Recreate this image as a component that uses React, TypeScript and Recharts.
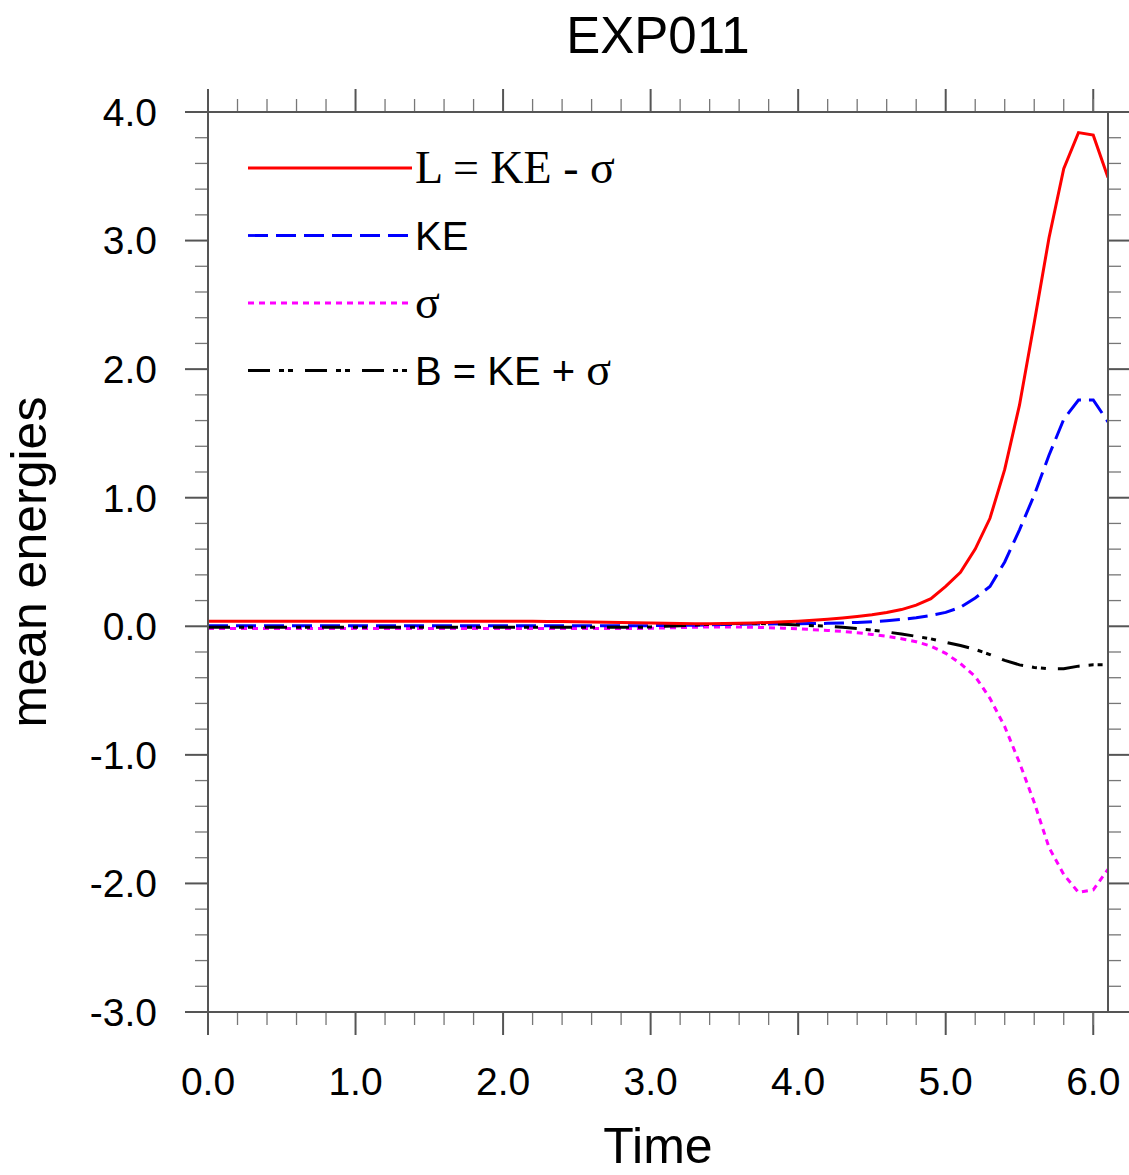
import React from 'react';
import { LineChart, Line, XAxis, YAxis, Legend, Label } from 'recharts';

// time axis (model time units)
const times = [
  0.0, 0.1, 0.2, 0.3, 0.4, 0.5, 0.6, 0.7, 0.8, 0.9,
  1.0, 1.1, 1.2, 1.3, 1.4, 1.5, 1.6, 1.7, 1.8, 1.9,
  2.0, 2.1, 2.2, 2.3, 2.4, 2.5, 2.6, 2.7, 2.8, 2.9,
  3.0, 3.1, 3.2, 3.3, 3.4, 3.5, 3.6, 3.7, 3.8, 3.9,
  4.0, 4.1, 4.2, 4.3, 4.4, 4.5, 4.6, 4.7, 4.8, 4.9,
  5.0, 5.1, 5.2, 5.3, 5.4, 5.5, 5.6, 5.7, 5.8, 5.9,
  6.0, 6.1,
];

// L = KE - sigma
const lagrangian = [
  0.04, 0.04, 0.04, 0.04, 0.04, 0.04, 0.04, 0.04, 0.04, 0.04,
  0.04, 0.04, 0.04, 0.04, 0.04, 0.04, 0.04, 0.04, 0.04, 0.04,
  0.04, 0.04, 0.039, 0.038, 0.037, 0.035, 0.033, 0.031, 0.029, 0.027,
  0.025, 0.023, 0.021, 0.02, 0.02, 0.021, 0.023, 0.026, 0.03, 0.035,
  0.04, 0.047, 0.055, 0.065, 0.077, 0.09, 0.108, 0.13, 0.165, 0.215,
  0.31, 0.42, 0.6, 0.84, 1.22, 1.72, 2.36, 3.02, 3.56, 3.84,
  3.82, 3.49,
];

// KE
const kinetic = [
  0.005, 0.005, 0.005, 0.005, 0.005, 0.005, 0.005, 0.005, 0.005, 0.005,
  0.005, 0.005, 0.005, 0.005, 0.005, 0.005, 0.005, 0.005, 0.005, 0.005,
  0.005, 0.005, 0.005, 0.005, 0.005, 0.005, 0.005, 0.005, 0.005, 0.005,
  0.005, 0.006, 0.007, 0.009, 0.011, 0.013, 0.015, 0.017, 0.018, 0.019,
  0.02, 0.021, 0.023, 0.026, 0.03, 0.035, 0.043, 0.053, 0.066, 0.085,
  0.108, 0.148, 0.22, 0.31, 0.5, 0.75, 1.02, 1.33, 1.61, 1.76,
  1.76, 1.59,
];

// sigma
const sigma = [
  -0.018, -0.018, -0.018, -0.018, -0.018, -0.018, -0.018, -0.018, -0.018, -0.018,
  -0.018, -0.018, -0.018, -0.018, -0.018, -0.018, -0.018, -0.018, -0.018, -0.018,
  -0.018, -0.018, -0.018, -0.018, -0.018, -0.018, -0.018, -0.018, -0.018, -0.018,
  -0.016, -0.013, -0.01, -0.007, -0.005, -0.005, -0.006, -0.008, -0.011, -0.015,
  -0.02, -0.026, -0.032, -0.04, -0.05, -0.063, -0.078, -0.097, -0.12, -0.155,
  -0.21, -0.29, -0.39, -0.56, -0.78, -1.06, -1.37, -1.72, -1.93, -2.07,
  -2.05, -1.89,
];

// B = KE + sigma
const bernoulli = [
  -0.008, -0.008, -0.008, -0.008, -0.008, -0.008, -0.008, -0.008, -0.008, -0.008,
  -0.008, -0.008, -0.008, -0.008, -0.008, -0.008, -0.008, -0.008, -0.008, -0.008,
  -0.008, -0.008, -0.008, -0.008, -0.008, -0.008, -0.008, -0.008, -0.008, -0.008,
  -0.005, 0.0, 0.005, 0.01, 0.015, 0.02, 0.022, 0.022, 0.02, 0.016,
  0.01, 0.005, 0.0, -0.008, -0.018, -0.03, -0.044, -0.06, -0.078, -0.098,
  -0.125, -0.15, -0.18, -0.22, -0.265, -0.3, -0.32, -0.33, -0.33, -0.31,
  -0.3, -0.3,
];

const xMajorTicks = [0, 1, 2, 3, 4, 5, 6];
const xMinorTicks = [
  0.2, 0.4, 0.6, 0.8, 1.2, 1.4, 1.6, 1.8, 2.2, 2.4, 2.6, 2.8,
  3.2, 3.4, 3.6, 3.8, 4.2, 4.4, 4.6, 4.8, 5.2, 5.4, 5.6, 5.8, 6.0,
];
const yMajorTicks = [-3, -2, -1, 0, 1, 2, 3, 4];
const yMinorTicks = [
  -2.8, -2.6, -2.4, -2.2, -1.8, -1.6, -1.4, -1.2, -0.8, -0.6, -0.4, -0.2,
  0.2, 0.4, 0.6, 0.8, 1.2, 1.4, 1.6, 1.8, 2.2, 2.4, 2.6, 2.8,
  3.2, 3.4, 3.6, 3.8,
];

const series = [
  { key: 'L', color: '#ff0000', dash: undefined as string | undefined },
  { key: 'KE', color: '#0000ff', dash: '20 8' },
  { key: 'sigma', color: '#ff00ff', dash: '6 5' },
  { key: 'B', color: '#000000', dash: '22 9 5 4 5 12' },
];

const data = times.map((t, i) => ({
  t,
  L: lagrangian[i],
  KE: kinetic[i],
  sigma: sigma[i],
  B: bernoulli[i],
}));

const SANS = '"Liberation Sans", Arial, Helvetica, sans-serif';
const SERIF = '"Liberation Serif", "Times New Roman", serif';
const AXIS = '#555555';
const MINOR = '#777777';

const fmt = (v: number) => v.toFixed(1);

// tick lines only, no label
const NoLabel = () => <g />;

const LegendBox = () => (
  <svg width={440} height={270} style={{ display: 'block' }}>
    {series.map((s, i) => {
      const y = 38 + i * 67.5;
      return (
        <line
          key={s.key}
          x1={8}
          x2={172}
          y1={y}
          y2={y}
          stroke={s.color}
          strokeWidth={2.8}
          strokeDasharray={s.dash}
        />
      );
    })}
    <text x={175} y={53} fontFamily={SERIF} fontSize={46} fill="#000">L = KE - σ</text>
    <text x={175} y={120} fontFamily={SANS} fontSize={40} fill="#000">KE</text>
    <text x={175} y={188} fontFamily={SERIF} fontSize={46} fill="#000">σ</text>
    <text x={175} y={255} fontFamily={SANS} fontSize={40} fill="#000">
      B = KE + <tspan fontFamily={SERIF} fontSize={46}>σ</tspan>
    </text>
  </svg>
);

export default function App() {
  return (
    <div style={{ width: 1129, height: 1175, background: '#fff' }}>
      <style>{'body{margin:0;}'}</style>
      <LineChart
        width={1129}
        height={1175}
        data={data}
        margin={{ top: 110, right: 19, bottom: 161, left: 206 }}
        style={{ fontFamily: SANS }}
      >
        <XAxis
          xAxisId="main"
          dataKey="t"
          type="number"
          domain={[0, 6.1]}
          allowDataOverflow
          ticks={xMajorTicks}
          interval={0}
          tickFormatter={fmt}
          height={1}
          stroke={AXIS}
          strokeWidth={2}
          tickSize={23}
          tickMargin={32}
          tick={{ fill: '#000', fontSize: 39, fontFamily: SANS }}
        >
          <Label
            content={(p: any) => (
              <text
                x={p.viewBox.x + p.viewBox.width / 2}
                y={p.viewBox.y + 151}
                textAnchor="middle"
                fontFamily={SANS}
                fontSize={50}
                fill="#000"
              >
                Time
              </text>
            )}
          />
        </XAxis>
        <XAxis
          xAxisId="minor"
          dataKey="t"
          type="number"
          domain={[0, 6.1]}
          allowDataOverflow
          ticks={xMinorTicks}
          interval={0}
          height={1}
          axisLine={false}
          stroke={MINOR}
          tickLine={{ stroke: MINOR, strokeWidth: 1.3 }}
          tickSize={12}
          tick={NoLabel}
        />
        <XAxis
          xAxisId="top"
          orientation="top"
          dataKey="t"
          type="number"
          domain={[0, 6.1]}
          allowDataOverflow
          ticks={xMajorTicks}
          interval={0}
          height={1}
          stroke={AXIS}
          strokeWidth={2}
          tickSize={23}
          tick={NoLabel}
        >
          <Label
            content={(p: any) => (
              <text
                x={p.viewBox.x + p.viewBox.width / 2}
                y={53}
                textAnchor="middle"
                fontFamily={SANS}
                fontSize={51}
                fill="#000"
              >
                EXP011
              </text>
            )}
          />
        </XAxis>
        <XAxis
          xAxisId="topMinor"
          orientation="top"
          dataKey="t"
          type="number"
          domain={[0, 6.1]}
          allowDataOverflow
          ticks={xMinorTicks}
          interval={0}
          height={1}
          axisLine={false}
          stroke={MINOR}
          tickLine={{ stroke: MINOR, strokeWidth: 1.3 }}
          tickSize={12}
          tick={NoLabel}
        />
        <YAxis
          yAxisId="main"
          type="number"
          domain={[-3, 4]}
          allowDataOverflow
          ticks={yMajorTicks}
          interval={0}
          tickFormatter={fmt}
          width={1}
          stroke={AXIS}
          strokeWidth={2}
          tickSize={23}
          tickMargin={28}
          tick={{ fill: '#000', fontSize: 39, fontFamily: SANS }}
        >
          <Label
            content={(p: any) => {
              const cy = p.viewBox.y + p.viewBox.height / 2;
              return (
                <text
                  x={46}
                  y={cy}
                  transform={`rotate(-90, 46, ${cy})`}
                  textAnchor="middle"
                  fontFamily={SANS}
                  fontSize={50}
                  fill="#000"
                >
                  mean energies
                </text>
              );
            }}
          />
        </YAxis>
        <YAxis
          yAxisId="minor"
          type="number"
          domain={[-3, 4]}
          allowDataOverflow
          ticks={yMinorTicks}
          interval={0}
          width={1}
          axisLine={false}
          stroke={MINOR}
          tickLine={{ stroke: MINOR, strokeWidth: 1.3 }}
          tickSize={12}
          tick={NoLabel}
        />
        <YAxis
          yAxisId="right"
          orientation="right"
          type="number"
          domain={[-3, 4]}
          allowDataOverflow
          ticks={yMajorTicks}
          interval={0}
          width={1}
          stroke={AXIS}
          strokeWidth={2}
          tickSize={23}
          tick={NoLabel}
        />
        <YAxis
          yAxisId="rightMinor"
          orientation="right"
          type="number"
          domain={[-3, 4]}
          allowDataOverflow
          ticks={yMinorTicks}
          interval={0}
          width={1}
          axisLine={false}
          stroke={MINOR}
          tickLine={{ stroke: MINOR, strokeWidth: 1.3 }}
          tickSize={12}
          tick={NoLabel}
        />
        {[series[2], series[1], series[3], series[0]].map((s) => (
          <Line
            key={s.key}
            xAxisId="main"
            yAxisId="main"
            type="linear"
            dataKey={s.key}
            stroke={s.color}
            strokeWidth={3}
            strokeDasharray={s.dash}
            dot={false}
            activeDot={false}
            isAnimationActive={false}
          />
        ))}
        <Legend
          layout="horizontal"
          verticalAlign="middle"
          align="center"
          wrapperStyle={{ left: 240, top: 130, width: 440, height: 270 }}
          content={() => <LegendBox />}
        />
      </LineChart>
    </div>
  );
}
